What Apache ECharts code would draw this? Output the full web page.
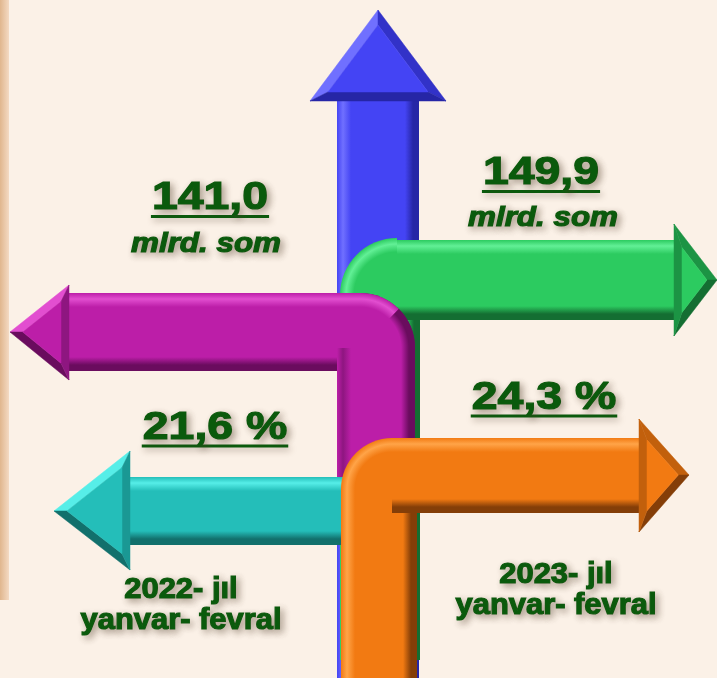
<!DOCTYPE html>
<html>
<head>
<meta charset="utf-8">
<script src="https://cdn.jsdelivr.net/npm/echarts@6/dist/echarts.min.js"></script>
<style>
  html, body { margin: 0; padding: 0; background: #FBF1E7; }
  #chart { width: 717px; height: 678px; }
</style>
</head>
<body>
<div id="chart"></div>
<script>
// values
const years = ['2022', '2023'];
const volumes = [141.0, 149.9];   // mlrd. som
const shares = [21.6, 24.3];      // %
const volumeUnit = 'mlrd. som';
const periodText = 'yanvar- fevral';

const textColor = '#0A5A0C';
const fontFamily = '"Liberation Sans", Arial, sans-serif';

const palette = {
  blue:    { main: '#4444F4', light: '#7070FF', dark: '#2626A6', mid: '#3232C8' },
  green:   { main: '#2CCB60', light: '#62F096', dark: '#146E32', mid: '#1C9444' },
  magenta: { main: '#BC1EA8', light: '#E24ED0', dark: '#6A0C5E', mid: '#8E1680' },
  cyan:    { main: '#24BEB9', light: '#56EEE8', dark: '#12706C', mid: '#1A9894' },
  orange:  { main: '#F27A12', light: '#FFA448', dark: '#843E08', mid: '#C2600C' }
};

function fmt(v) {
  return v.toFixed(1).replace('.', ',');
}

function measure(text, font) {
  let ctx = document.createElement('canvas').getContext('2d');
  ctx.font = font;
  return ctx.measureText(text).width;
}

function shaftStops(w, c, lit) {
  return [
    { offset: 0, color: c.main },
    { offset: 6 / w, color: lit },
    { offset: 14 / w, color: c.main },
    { offset: (w - 14) / w, color: c.main },
    { offset: (w - 6) / w, color: c.dark },
    { offset: 1, color: c.dark }
  ];
}

// horizontal shaft (light on top, dark at bottom)
function hShaft(x0, x1, y0, y1, c, z) {
  return {
    type: 'rect', z: z,
    shape: { x: x0, y: y0, width: x1 - x0, height: y1 - y0 },
    style: { fill: { type: 'linear', x: 0, y: 0, x2: 0, y2: 1, colorStops: shaftStops(y1 - y0, c, c.light) } }
  };
}

// vertical shaft (lit at left, dark at right)
function vShaft(x0, x1, y0, y1, c, z, lit) {
  return {
    type: 'rect', z: z,
    shape: { x: x0, y: y0, width: x1 - x0, height: y1 - y0 },
    style: { fill: { type: 'linear', x: 0, y: 0, x2: 1, y2: 0, colorStops: shaftStops(x1 - x0, c, lit || c.light) } }
  };
}

// rounded bend of an L shaped arrow
function bend(cx, cy, r, a0, a1, c, rim, z) {
  let edge = rim === c.light ? c.main : c.dark;
  return {
    type: 'sector', z: z,
    shape: { cx: cx, cy: cy, r: r, r0: 0, startAngle: a0, endAngle: a1, clockwise: true },
    style: {
      fill: {
        type: 'radial', x: cx, y: cy, r: r, global: true,
        colorStops: [
          { offset: 0, color: c.main },
          { offset: (r - 14) / r, color: c.main },
          { offset: (r - 6) / r, color: rim },
          { offset: 1, color: edge }
        ]
      }
    }
  };
}

// bevelled triangular head: A and C are the base corners, B the tip
// faces = colours of the A-B face, B-C face and C-A (base) face
function head(A, B, C, c, faces, inset, z) {
  let d = (p, q) => Math.hypot(p[0] - q[0], p[1] - q[1]);
  let a = d(B, C), b = d(C, A), cc = d(A, B), s = a + b + cc;
  let I = [(a * A[0] + b * B[0] + cc * C[0]) / s, (a * A[1] + b * B[1] + cc * C[1]) / s];
  let area = Math.abs((B[0] - A[0]) * (C[1] - A[1]) - (C[0] - A[0]) * (B[1] - A[1])) / 2;
  let k = 1 - inset / (2 * area / s);
  let sh = p => [I[0] + k * (p[0] - I[0]), I[1] + k * (p[1] - I[1])];
  let A2 = sh(A), B2 = sh(B), C2 = sh(C);
  let poly = (pts, fill) => ({ type: 'polygon', z: z, shape: { points: pts }, style: { fill: fill, stroke: fill, lineWidth: 0.5 } });
  return [
    poly([A, B, B2, A2], faces[0]),
    poly([B, C, C2, B2], faces[1]),
    poly([C, A, A2, C2], faces[2]),
    poly([A2, B2, C2], c.main)
  ];
}

function label(text, x, y, size, scaleX, italic) {
  return {
    type: 'text', z: 20, x: x, y: y, scaleX: scaleX,
    style: {
      text: text, x: 0, y: 0,
      font: (italic ? 'italic ' : '') + 'bold ' + size + 'px ' + fontFamily,
      fill: textColor, stroke: textColor, lineWidth: 1.2,
      align: 'center', verticalAlign: 'middle',
      textAlign: 'center', textVerticalAlign: 'middle',
      textShadowColor: 'rgba(80,60,40,0.45)', textShadowBlur: 7,
      textShadowOffsetX: 3, textShadowOffsetY: 3
    }
  };
}

function underlined(text, x, y, size, scaleX, lineY) {
  let w = measure(text, 'bold ' + size + 'px ' + fontFamily) * scaleX;
  return [
    {
      type: 'line', z: 19,
      shape: { x1: x - w / 2 - 1, y1: lineY, x2: x + w / 2 + 1, y2: lineY },
      style: {
        stroke: textColor, lineWidth: 3,
        shadowColor: 'rgba(80,60,40,0.4)', shadowBlur: 6, shadowOffsetX: 2, shadowOffsetY: 3
      }
    },
    label(text, x, y, size, scaleX, false)
  ];
}

let B = palette.blue, G = palette.green, M = palette.magenta, C = palette.cyan, O = palette.orange;

let elements = [];

// left edge strip
elements.push({
  type: 'rect', z: 0,
  shape: { x: 0, y: 0, width: 9, height: 600 },
  style: { fill: { type: 'linear', x: 0, y: 0, x2: 1, y2: 0,
    colorStops: [{ offset: 0, color: '#E0B68E' }, { offset: 1, color: '#F4DAC3' }] } }
});

// blue arrow pointing up
elements.push(vShaft(337, 419, 96, 678, B, 1));
elements.push(...head([310, 101], [378, 10], [446, 101], B, [B.light, B.mid, B.dark], 9, 1));

// green arrow: down-stem bending to the right
elements.push(vShaft(340, 420, 295, 660, G, 2));
elements.push(hShaft(397, 676, 240, 320, G, 2));
elements.push(bend(397, 295, 57, Math.PI, Math.PI * 1.5, G, G.light, 2));
elements.push(...head([674, 224], [717, 280], [674, 336], G, [G.mid, G.dark, G.mid], 8, 2));

// magenta arrow: stem bending to the left
elements.push(hShaft(66, 360, 293, 371, M, 3));
elements.push(vShaft(337, 415, 348, 500, M, 3, M.mid));
elements.push(bend(360, 348, 55, Math.PI * 1.5, Math.PI * 2, M, M.main, 3));
elements.push(bend(360, 348, 55, Math.PI * 1.5, Math.PI * 1.75, M, M.light, 3));
elements.push(bend(360, 348, 55, Math.PI * 1.75, Math.PI * 2, M, M.dark, 3));
elements.push(...head([69, 285], [10, 332], [69, 380], M, [M.light, M.dark, M.mid], 8, 3));

// cyan arrow pointing left
elements.push(hShaft(127, 346, 477, 545, C, 4));
elements.push(...head([130, 451], [54, 511], [130, 570], C, [C.light, C.dark, C.mid], 8, 4));

// orange arrow: stem bending to the right
elements.push(vShaft(341, 417, 489, 678, O, 5));
elements.push(hShaft(392, 641, 438, 513, O, 5));
elements.push(bend(392, 489, 51, Math.PI, Math.PI * 1.5, O, O.light, 5));
elements.push(...head([639, 419], [689, 475], [639, 532], O, [O.mid, O.dark, O.mid], 8, 5));

// value texts
elements.push(...underlined(fmt(volumes[0]), 210, 198, 39, 1.19, 216.5));
elements.push(label(volumeUnit, 206, 244, 28, 1.12, true));
elements.push(...underlined(fmt(volumes[1]), 541, 173, 39, 1.19, 191.5));
elements.push(label(volumeUnit, 543, 218, 28, 1.12, true));
elements.push(...underlined(fmt(shares[0]) + ' %', 215, 428, 39, 1.19, 446));
elements.push(...underlined(fmt(shares[1]) + ' %', 544, 398, 39, 1.19, 416));

// period captions
elements.push(label(years[0] + '- jıl', 181, 590, 30, 1.03, false));
elements.push(label(periodText, 181, 621, 30, 1.03, false));
elements.push(label(years[1] + '- jıl', 556, 575, 30, 1.03, false));
elements.push(label(periodText, 556, 606, 30, 1.03, false));

let myChart = echarts.init(document.getElementById('chart'));
myChart.setOption({
  backgroundColor: '#FBF1E7',
  animation: false,
  graphic: { elements: elements }
});
</script>
</body>
</html>
